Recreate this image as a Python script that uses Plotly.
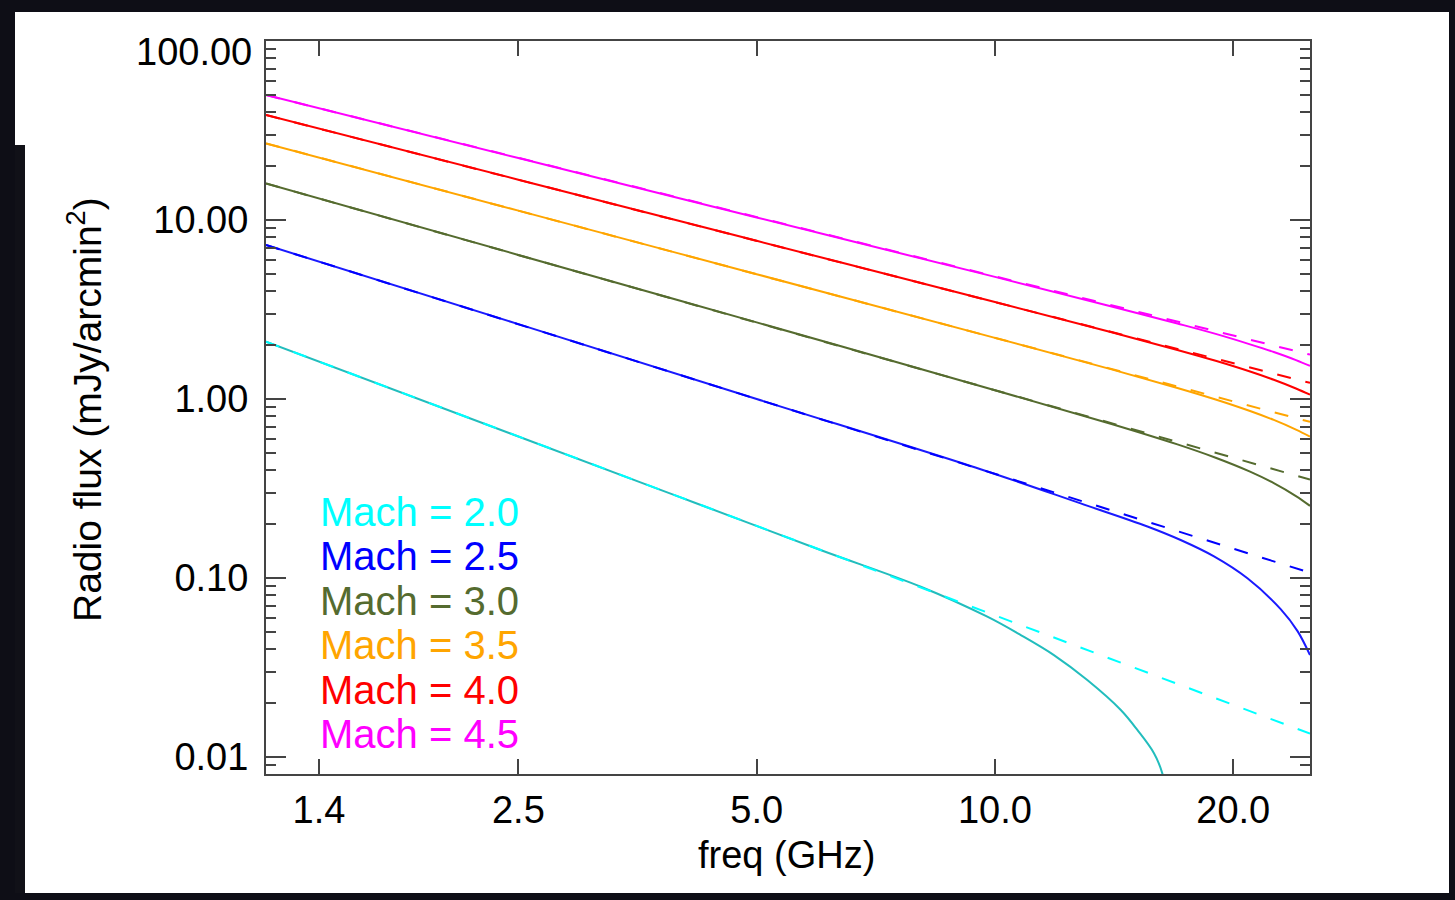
import math
import plotly.graph_objects as go

# ---------------- data ----------------
mach_labels = ["Mach = 2.0", "Mach = 2.5", "Mach = 3.0", "Mach = 3.5", "Mach = 4.0", "Mach = 4.5"]
text_colors = ["#00ffff", "#0000ff", "#556b2f", "#ffa500", "#ff0000", "#ff00ff"]
solid_colors = ["#22bdbd", "#1a1aff", "#556b2f", "#ffa500", "#ff0000", "#ff00ff"]

# dashed (pure power-law) lines
freq_dash = [1.2, 25.0]
dash_m20 = [2.09, 0.0135]
dash_m25 = [7.25, 0.107]
dash_m30 = [16.0, 0.355]
dash_m35 = [26.8, 0.745]
dash_m40 = [38.6, 1.23]
dash_m45 = [49.9, 1.77]

# solid lines
freq_m20 = [1.2, 2.5, 4.0, 6.02, 8.06, 9.78, 10.78, 11.87, 13.08, 14.42, 15.13, 15.88, 16.27, 16.6]
solid_m20 = [2.09, 0.617, 0.283, 0.1434, 0.0894, 0.0608, 0.0480, 0.0371, 0.0269, 0.0183,
             0.01416, 0.0105, 0.0081, 0.005]

freq_m25 = [1.2, 2.5, 5.0, 9.59, 12.83, 15.58, 17.16, 18.91, 20.84, 22.97, 24.11, 25.0]
solid_m25 = [7.25, 2.62, 1.00, 0.405, 0.261, 0.194, 0.163, 0.132, 0.0996, 0.0668, 0.0505, 0.0371]

freq_hi = [1.2, 2.5, 5.0, 10, 14, 17, 19, 21, 22.5, 24, 25]
solid_m30 = [16.0, 6.38, 2.68, 1.120, 0.728, 0.558, 0.470, 0.393, 0.339, 0.287, 0.253]
solid_m35 = [26.8, 11.28, 4.98, 2.196, 1.469, 1.153, 0.994, 0.857, 0.764, 0.675, 0.617]
solid_m40 = [38.6, 16.80, 7.65, 3.48, 2.37, 1.88, 1.635, 1.424, 1.281, 1.145, 1.057]
solid_m45 = [49.9, 22.2, 10.33, 4.81, 3.30, 2.64, 2.31, 2.02, 1.83, 1.65, 1.53]

x_tickvals = [1.4, 2.5, 5.0, 10.0, 20.0]
x_ticktext = ["1.4", "2.5", "5.0", "10.0", "20.0"]
y_tickvals = [0.01, 0.1, 1, 10]
y_ticktext = ["0.01", "0.10", "1.00", "10.00"]
y_top_label = "100.00"
y_minor = [m * 10.0 ** e for e in range(-3, 2) for m in range(2, 10)]

x_title = "freq (GHz)"
y_title = "Radio flux (mJy/arcmin<sup>2</sup>)"

# ---------------- figure ----------------
W, H = 1455, 900
L, R, T, B = 266, 1310, 41, 774
FONT = "Liberation Sans, Arial, Helvetica, sans-serif"

def px_x(px):
    return (px - L) / (R - L)

def px_y(py):
    return (B - py) / (B - T)

fig = go.Figure()

solid_sets = [(freq_m20, solid_m20), (freq_m25, solid_m25), (freq_hi, solid_m30),
              (freq_hi, solid_m35), (freq_hi, solid_m40), (freq_hi, solid_m45)]
dash_sets = [dash_m20, dash_m25, dash_m30, dash_m35, dash_m40, dash_m45]

for (fx, fy), c in zip(solid_sets, solid_colors):
    fig.add_trace(go.Scatter(x=fx, y=fy, mode="lines",
                             line=dict(color=c, width=2, shape="spline", smoothing=1.0),
                             showlegend=False))
for dy, c in zip(dash_sets, text_colors):
    fig.add_trace(go.Scatter(x=freq_dash, y=dy, mode="lines",
                             line=dict(color=c, width=2, dash="14px,15px"),
                             showlegend=False))

axis_common = dict(showline=True, linecolor="#444444", linewidth=2, mirror="allticks",
                   ticks="inside", tickcolor="#444444", tickwidth=2,
                   showgrid=False, zeroline=False,
                   tickfont=dict(family=FONT, size=38, color="black"))

fig.update_xaxes(type="log", range=[math.log10(1.2), math.log10(25)],
                 tickmode="array", tickvals=x_tickvals, ticktext=x_ticktext,
                 ticklen=15, ticklabelstandoff=1, **axis_common)
fig.update_yaxes(type="log", range=[-2.095, 2.0],
                 tickmode="array", tickvals=y_tickvals, ticktext=y_ticktext,
                 ticklen=20, ticklabelstandoff=8,
                 minor=dict(tickmode="array", tickvals=y_minor, ticks="inside",
                            ticklen=10, tickcolor="#444444", tickwidth=2),
                 **axis_common)

annotations = []
# top y tick label (drawn slightly lower as in the reference)
annotations.append(dict(xref="paper", yref="paper", x=px_x(254), y=px_y(52),
                        text=y_top_label, showarrow=False, xanchor="right", yanchor="middle",
                        font=dict(family=FONT, size=38, color="black")))
# axis titles
annotations.append(dict(xref="paper", yref="paper", x=px_x(786), y=px_y(855),
                        text=x_title, showarrow=False, xanchor="center", yanchor="middle",
                        font=dict(family=FONT, size=38, color="black")))
annotations.append(dict(xref="paper", yref="paper", x=px_x(84), y=px_y(410),
                        text=y_title, showarrow=False, textangle=-90,
                        xanchor="center", yanchor="middle",
                        font=dict(family=FONT, size=39, color="black")))
# legend text
for i, (lab, c) in enumerate(zip(mach_labels, text_colors)):
    annotations.append(dict(xref="paper", yref="paper", x=px_x(318), y=px_y(512 + 44.4 * i),
                            text=lab, showarrow=False, xanchor="left", yanchor="middle",
                            font=dict(family=FONT, size=40, color=c)))

shapes = [
    dict(type="rect", xref="paper", yref="paper", layer="below",
         x0=px_x(15), x1=px_x(1449), y0=px_y(893), y1=px_y(12),
         fillcolor="white", line=dict(width=0)),
    dict(type="rect", xref="paper", yref="paper", layer="below",
         x0=px_x(15), x1=px_x(25), y0=px_y(893), y1=px_y(145),
         fillcolor="#111118", line=dict(width=0)),
]

fig.update_layout(width=W, height=H,
                  margin=dict(l=L, r=W - R, t=T, b=H - B, pad=0),
                  paper_bgcolor="#0e0e16", plot_bgcolor="rgba(0,0,0,0)",
                  annotations=annotations, shapes=shapes, showlegend=False)

fig.write_html("out.html")
